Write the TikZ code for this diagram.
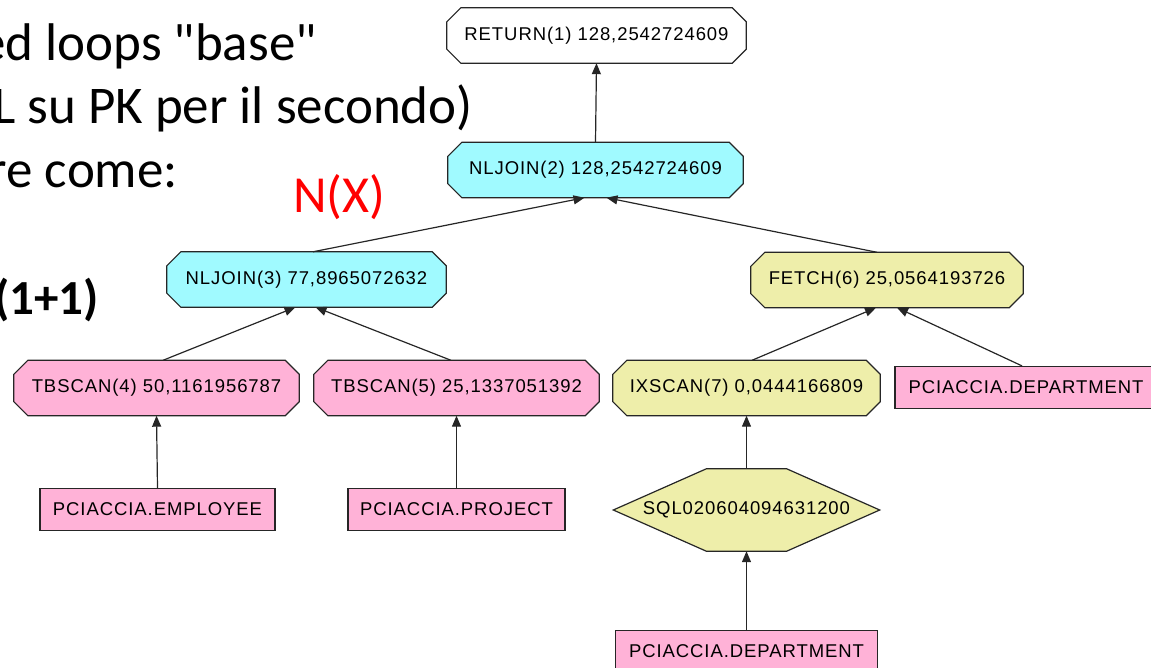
\documentclass[tikz,border=0pt]{standalone}
\definecolor{plancyan}{RGB}{160, 250, 255}
\definecolor{planyellow}{RGB}{238, 238, 170}
\definecolor{planpink}{RGB}{255, 178, 215}
\definecolor{nxred}{RGB}{255, 0, 0}
\usepackage{fontspec}
\setmainfont{Carlito}[Ligatures=TeXOff]
\newfontfamily\planfont[LetterSpace=5]{Liberation Sans}
\usepackage{tikz}
\usetikzlibrary{arrows.meta, positioning, backgrounds}

\begin{document}
\begin{tikzpicture}[x=1pt, y=-1pt,
  opbox/.style={rectangle, inner sep=0pt, minimum height=55pt,
    font=\planfont\fontsize{18.5}{18.5}\selectfont},
  opline/.style={draw=black!85, line width=1.2pt},
  tablebox/.style={rectangle, opline, fill=planpink, inner sep=0pt,
    minimum height=42pt, font=\planfont\fontsize{18.5}{18.5}\selectfont},
  planarrow/.style={-{Triangle[length=11pt, width=9pt]}, line width=1.2pt, draw=black!85},
  slideline/.style={anchor=base east, inner sep=0pt, font=\fontsize{53}{63}\selectfont}]

  \clip (0, 0) rectangle (1151, 668);

  % slide text (cut at the left edge)
  \node[slideline] (line1) at (317, 61) {ed loops "base"};
  \node[slideline] (line2) at (473, 124) {L su PK per il secondo)};
  \node[slideline] (line3) at (178, 188) {re come:};
  \node[slideline, font=\fontsize{49}{59}\selectfont\bfseries] (line4) at (99, 315) {(1+1)};
  \node[anchor=base west, inner sep=0pt, text=nxred, font=\fontsize{52}{62}\selectfont] (nx) at (293, 213) {N(X)};

  % access plan operators
  \node[opbox, minimum width=299pt] (ret) at (596.5, 35.5) {RETURN(1) 128,2542724609};
  \node[opbox, minimum width=295pt] (nl2) at (595.5, 170) {NLJOIN(2) 128,2542724609};
  \node[opbox, minimum width=279pt] (nl3) at (306.5, 279.5) {NLJOIN(3) 77,8965072632};
  \node[opbox, minimum width=272pt] (fetch) at (887, 280) {FETCH(6) 25,0564193726};
  \node[opbox, minimum width=285pt] (tb4) at (156.5, 388) {TBSCAN(4) 50,1161956787};
  \node[opbox, minimum width=285pt] (tb5) at (456.5, 388) {TBSCAN(5) 25,1337051392};
  \node[opbox, minimum width=267pt] (ix7) at (746.5, 388) {IXSCAN(7) 0,0444166809};

  % tables and index
  \node[tablebox, minimum width=262pt] (deptr) at (1026, 387.5) {PCIACCIA.DEPARTMENT};
  \node[tablebox, minimum width=235pt] (emp) at (157.5, 509.5) {PCIACCIA.EMPLOYEE};
  \node[tablebox, minimum width=217pt] (proj) at (456.5, 509.5) {PCIACCIA.PROJECT};
  \node[opbox, minimum width=266pt, minimum height=82pt] (sql) at (746.5, 510) {SQL020604094631200};
  \node[tablebox, minimum width=262pt] (deptb) at (746.5, 651.5) {PCIACCIA.DEPARTMENT};

  % octagon and hexagon outlines behind the texts
  \begin{scope}[on background layer]
    \foreach \n/\c in {ret/white, nl2/plancyan, nl3/plancyan, fetch/planyellow,
                       tb4/planpink, tb5/planpink, ix7/planyellow} {
      \filldraw[opline, fill=\c]
        ([xshift=14pt]\n.north west) -- ([xshift=-14pt]\n.north east)
        -- ([yshift=-14pt]\n.north east) -- ([yshift=14pt]\n.south east)
        -- ([xshift=-14pt]\n.south east) -- ([xshift=14pt]\n.south west)
        -- ([yshift=14pt]\n.south west) -- ([yshift=-14pt]\n.north west) -- cycle;
    }
    \filldraw[opline, fill=planyellow]
      (sql.west) -- ([xshift=93pt]sql.north west) -- ([xshift=-93pt]sql.north east)
      -- (sql.east) -- ([xshift=-93pt]sql.south east) -- ([xshift=93pt]sql.south west) -- cycle;
  \end{scope}

  % edges
  \draw[planarrow] (nl2.north) -- (ret.south);
  \draw[planarrow] ([xshift=6.5pt]nl3.north) -- ([xshift=-11pt]nl2.south);
  \draw[planarrow] ([xshift=-10pt]fetch.north) -- ([xshift=11pt]nl2.south);
  \draw[planarrow] ([xshift=6.5pt]tb4.north) -- ([xshift=-11pt]nl3.south);
  \draw[planarrow] ([xshift=-5.5pt]tb5.north) -- ([xshift=9pt]nl3.south);
  \draw[planarrow] ([xshift=5.5pt]ix7.north) -- ([xshift=-11pt]fetch.south);
  \draw[planarrow] ([xshift=-4pt]deptr.north) -- ([xshift=10pt]fetch.south);
  \draw[planarrow] (emp.north) -- (tb4.south);
  \draw[planarrow] (proj.north) -- (tb5.south);
  \draw[planarrow] (sql.north) -- (ix7.south);
  \draw[planarrow] (deptb.north) -- (sql.south);
\end{tikzpicture}
\end{document}
